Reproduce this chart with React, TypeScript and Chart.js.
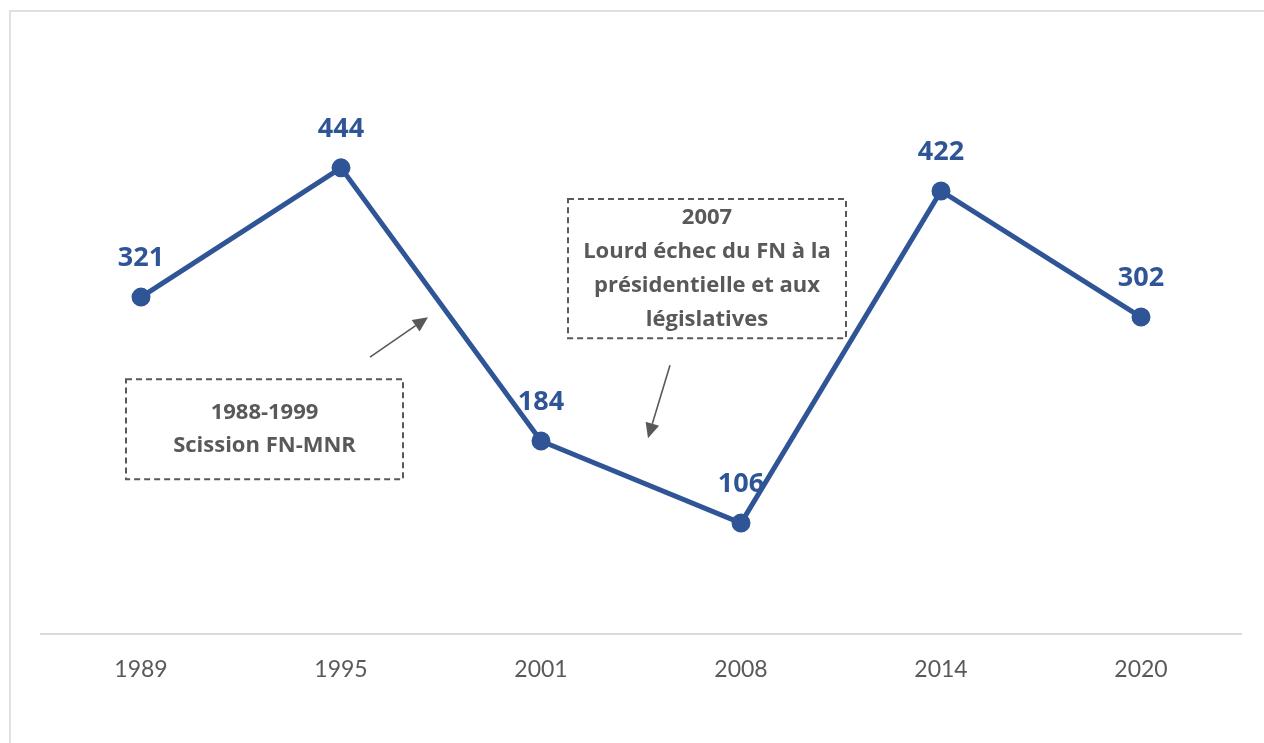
import React, { useEffect, useRef } from "react";
import { Chart, registerables } from "chart.js";

Chart.register(...registerables);

const categories = ["1989", "1995", "2001", "2008", "2014", "2020"];
const seats = [321, 444, 184, 106, 422, 302];

// annotations in data coordinates (category index, value)
const noteBoxes = [
  { x0: -0.075, x1: 1.31, y0: 242.9, y1: 147.6, lines: ["1988-1999", "Scission FN-MNR"], lineHeight: 33 },
  {
    x0: 2.135, x1: 3.525, y0: 414.3, y1: 281.9,
    lines: ["2007", "Lourd échec du FN à la", "présidentielle et aux", "législatives"], lineHeight: 34,
  },
];
const noteArrows = [
  { fx: 1.145, fy: 263.8, tx: 1.435, ty: 301.9 },
  { fx: 2.645, fy: 256.2, tx: 2.535, ty: 186.7 },
];

const BLUE = "#2F5597";
const GREY = "#595959";
const FONT = "Lato, 'Open Sans', sans-serif";
const BOLD_FONT = "'Open Sans', Lato, sans-serif";

const annotationPlugin = {
  id: "notes",
  afterDatasetsDraw(chart: any) {
    const ctx = chart.ctx;
    const xs = chart.scales.x;
    const ys = chart.scales.y;
    ctx.save();
    // data labels
    const meta = chart.getDatasetMeta(0);
    ctx.fillStyle = BLUE;
    ctx.font = `bold 27px ${BOLD_FONT}`;
    ctx.textAlign = "center";
    ctx.textBaseline = "middle";
    meta.data.forEach((pt: any, i: number) => {
      ctx.fillText(String(seats[i]), pt.x, pt.y - 39);
    });
    // boxes
    noteBoxes.forEach((b) => {
      const l = xs.getPixelForValue(b.x0);
      const r = xs.getPixelForValue(b.x1);
      const t = ys.getPixelForValue(b.y0);
      const bt = ys.getPixelForValue(b.y1);
      ctx.setLineDash([6, 4]);
      ctx.strokeStyle = GREY;
      ctx.lineWidth = 2;
      ctx.strokeRect(l, t, r - l, bt - t);
      ctx.setLineDash([]);
      ctx.fillStyle = GREY;
      ctx.font = `bold 22px ${BOLD_FONT}`;
      const cx = (l + r) / 2;
      const cy = (t + bt) / 2;
      const n = b.lines.length;
      b.lines.forEach((line, k) => {
        ctx.fillText(line, cx, cy + (k - (n - 1) / 2) * b.lineHeight);
      });
    });
    // arrows
    noteArrows.forEach((a) => {
      const fx = xs.getPixelForValue(a.fx);
      const fy = ys.getPixelForValue(a.fy);
      const tx = xs.getPixelForValue(a.tx);
      const ty = ys.getPixelForValue(a.ty);
      const ang = Math.atan2(ty - fy, tx - fx);
      const head = 15;
      const hw = 7;
      const bx = tx - head * Math.cos(ang);
      const by = ty - head * Math.sin(ang);
      ctx.strokeStyle = GREY;
      ctx.lineWidth = 1.6;
      ctx.beginPath();
      ctx.moveTo(fx, fy);
      ctx.lineTo(bx, by);
      ctx.stroke();
      ctx.fillStyle = GREY;
      ctx.beginPath();
      ctx.moveTo(tx, ty);
      ctx.lineTo(bx + hw * Math.sin(ang), by - hw * Math.cos(ang));
      ctx.lineTo(bx - hw * Math.sin(ang), by + hw * Math.cos(ang));
      ctx.closePath();
      ctx.fill();
    });
    ctx.restore();
  },
};

export default function App() {
  const ref = useRef<HTMLCanvasElement | null>(null);
  useEffect(() => {
    document.body.style.margin = "0";
    document.body.style.overflow = "hidden";
    if (!ref.current) return;
    const chart = new Chart(ref.current, {
      type: "line",
      data: {
        labels: categories,
        datasets: [
          {
            data: seats,
            borderColor: BLUE,
            backgroundColor: BLUE,
            borderWidth: 5,
            pointRadius: 7,
            pointBackgroundColor: BLUE,
            pointBorderColor: BLUE,
            tension: 0,
          },
        ],
      },
      options: {
        animation: false,
        responsive: true,
        maintainAspectRatio: false,
        layout: { padding: { left: 41, right: 23, top: 109, bottom: 39 } },
        plugins: { legend: { display: false }, tooltip: { enabled: false } },
        scales: {
          x: {
            offset: true,
            grid: { display: false, drawTicks: false },
            border: { display: true, color: "#d9d9d9", width: 2 },
            ticks: { color: GREY, font: { family: FONT, size: 23 }, padding: 21 },
          },
          y: { display: false, min: 0, max: 500 },
        },
      },
      plugins: [annotationPlugin],
    });
    return () => chart.destroy();
  }, []);
  return (
    <div style={{ position: "absolute", left: 0, top: 0, width: 1264, height: 743, overflow: "hidden", background: "#fff" }}>
      <div
        style={{
          position: "absolute", left: 9, top: 10, width: 1400, height: 900,
          borderLeft: "2px solid #e0e0e0", borderTop: "2px solid #e0e0e0",
        }}
      />
      <canvas ref={ref} style={{ position: "absolute", left: 0, top: 0, width: 1264, height: 743 }} />
    </div>
  );
}
